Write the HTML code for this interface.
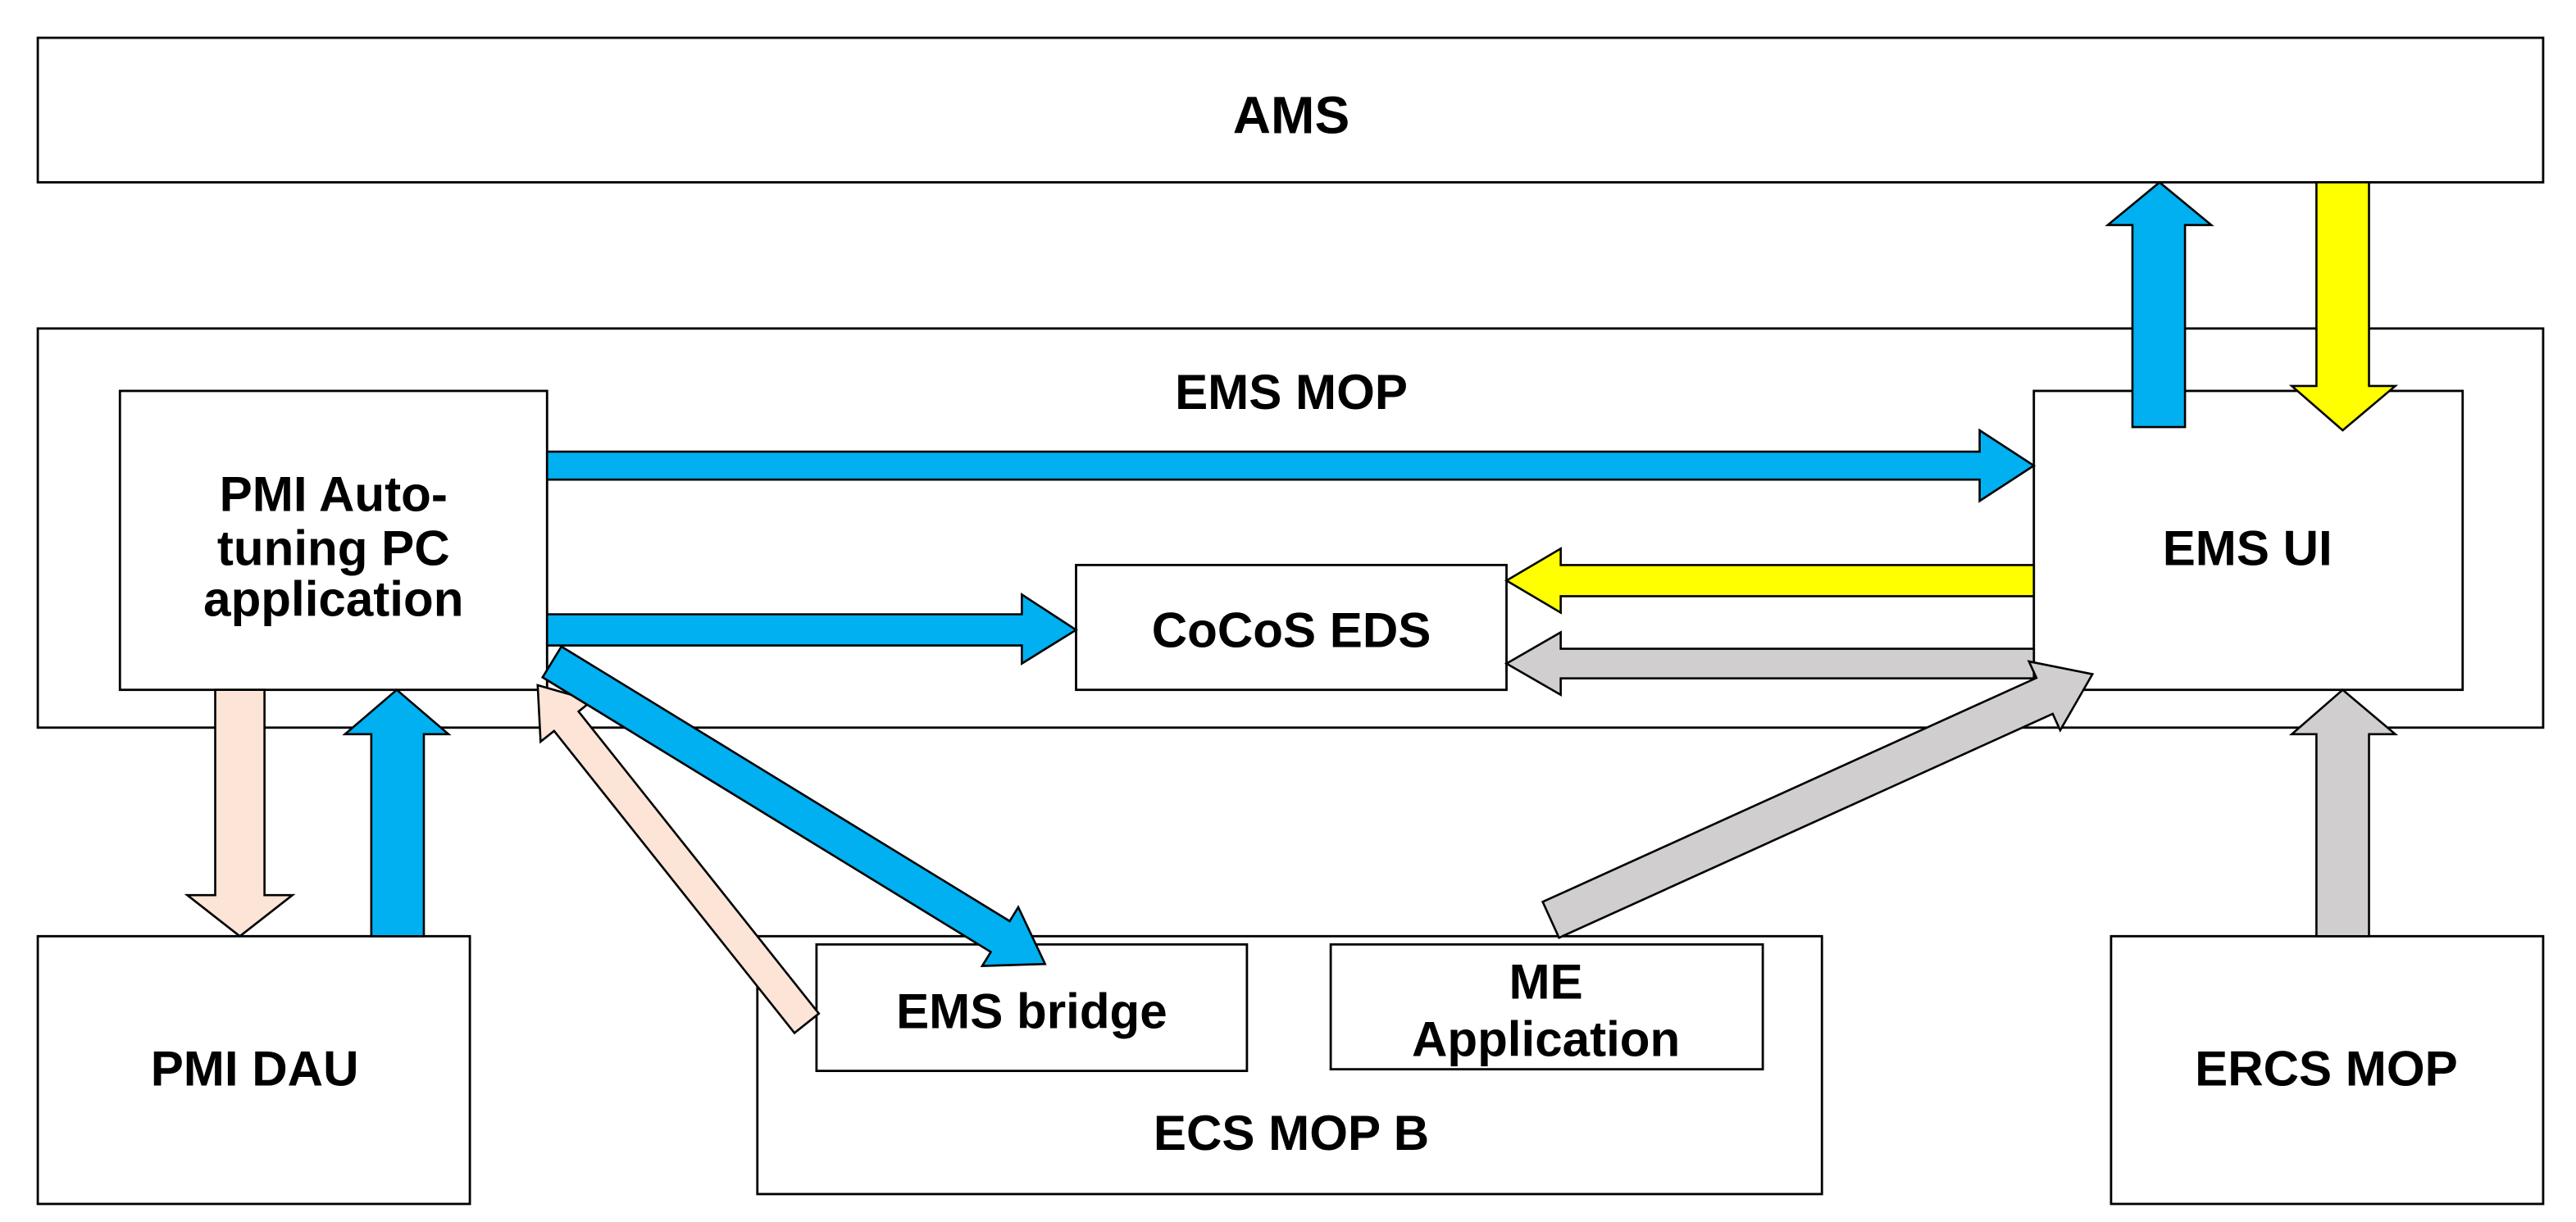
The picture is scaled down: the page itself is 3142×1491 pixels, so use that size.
<!DOCTYPE html>
<html><head><meta charset="utf-8"><style>html,body{margin:0;padding:0;background:#fff}svg{display:block}</style></head>
<body>
<svg width="3142" height="1491" viewBox="0 0 1568 744" preserveAspectRatio="none" xmlns="http://www.w3.org/2000/svg">
<g fill="#fff" stroke="#000" stroke-width="1.4">
<rect x="23" y="23" width="1525" height="88"/>
<rect x="23" y="200" width="1525" height="243"/>
<rect x="73" y="238" width="260" height="182"/>
<rect x="1238" y="238" width="261" height="182"/>
<rect x="655" y="344" width="262" height="76"/>
<rect x="23" y="570" width="263" height="163"/>
<rect x="461" y="570" width="648" height="157"/>
<rect x="497" y="575" width="262" height="77"/>
<rect x="810" y="575" width="263" height="76"/>
<rect x="1285" y="570" width="263" height="163"/>
</g>
<g stroke="#000" stroke-width="1.3" stroke-linejoin="miter">
<polygon fill="#00B0F0" points="333,275 1205,275 1205,262 1238,283.5 1205,305 1205,292 333,292"/>
<polygon fill="#00B0F0" points="333,374 622,374 622,362 655,383.5 622,404 622,393 333,393"/>
<polygon fill="#FFFF00" points="1238,344 950,344 950,334 917,353.5 950,373 950,363 1238,363"/>
<polygon fill="#D0CECE" points="1238,395 950,395 950,385 917,404 950,423 950,413 1238,413"/>
<polygon fill="#00B0F0" points="1298,260 1298,137 1283,137 1314.5,111 1346,137 1330,137 1330,260"/>
<polygon fill="#FFFF00" points="1410,111 1442,111 1442,235 1458,235 1426,262 1395,235 1410,235"/>
<polygon fill="#FCE4D6" points="131,420 161,420 161,545 178,545 146,570 114,545 131,545"/>
<polygon fill="#00B0F0" points="226,570 226,447 210,447 241.5,420 273,447 258,447 258,570"/>
<polygon fill="#D0CECE" points="1410,570 1410,447 1395,447 1426,420 1458,447 1442,447 1442,570"/>
<polygon fill="#FCE4D6" transform="translate(491,623) rotate(231.5)" points="0,-9.5 235,-9.5 235,-20 263,0 235,20 235,9.5 0,9.5"/>
<polygon fill="#00B0F0" transform="translate(336,403) rotate(31.5)" points="0,-11 320,-11 320,-21 352,0 320,21 320,11 0,11"/>
<polygon fill="#D0CECE" transform="translate(944,560) rotate(-24.4)" points="0,-12 330,-12 330,-23 362,0 330,23 330,12 0,12"/>
</g>
<g font-family="Liberation Sans, sans-serif" font-size="30" font-weight="bold" text-anchor="middle" fill="#000">
<text x="786" y="81" font-size="32">AMS</text>
<text x="786" y="249">EMS MOP</text>
<text x="203" y="311">PMI Auto-</text>
<text x="203" y="344">tuning PC</text>
<text x="203" y="375">application</text>
<text x="1368" y="344">EMS UI</text>
<text x="786" y="394">CoCoS EDS</text>
<text x="155" y="661">PMI DAU</text>
<text x="628" y="626">EMS bridge</text>
<text x="941" y="608">ME</text>
<text x="941" y="643">Application</text>
<text x="786" y="700">ECS MOP B</text>
<text x="1416" y="661">ERCS MOP</text>
</g>
</svg>
</body></html>
